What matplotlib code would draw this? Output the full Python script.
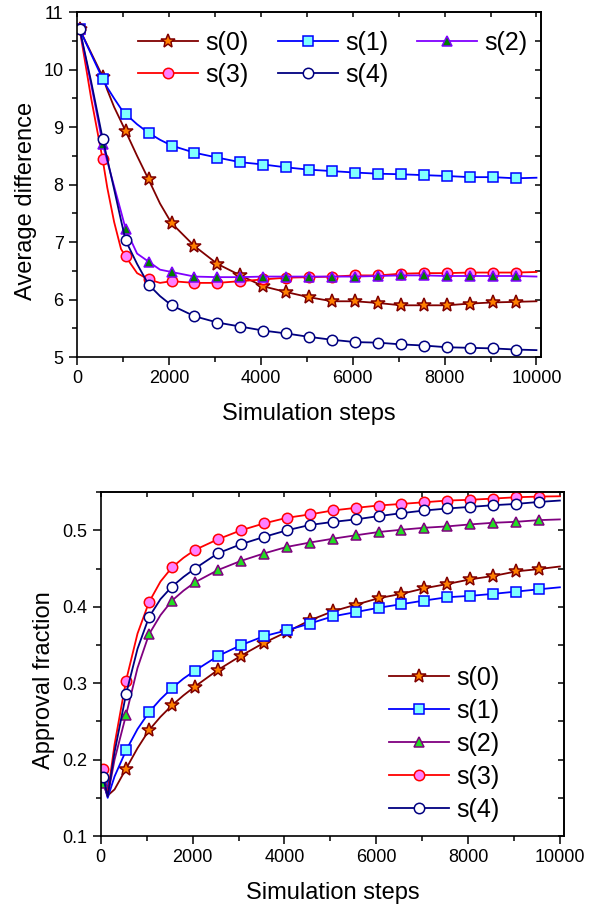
import numpy as np
import matplotlib
matplotlib.use("Agg")
import matplotlib.pyplot as plt
from matplotlib.ticker import MultipleLocator

plt.rcParams['font.family'] = ['Liberation Sans', 'DejaVu Sans']

labels = ["s(0)", "s(1)", "s(2)", "s(3)", "s(4)"]
marker_steps = [50 + 500 * k for k in range(20)]

# ---- top panel: average difference ----
top_x = [50, 300, 550, 650, 800, 950, 1050, 1300, 1550, 1800, 2050, 2550, 3050, 3550,
         4050, 4550, 5050, 5550, 6050, 6550, 7050, 7550, 8050, 8550, 9050, 9550, 10000]
top_s0 = [10.70, 10.29, 9.88, 9.65, 9.35, 9.10, 8.93, 8.50, 8.09, 7.67, 7.33, 6.93, 6.62, 6.42,
          6.23, 6.13, 6.04, 5.97, 5.97, 5.94, 5.90, 5.90, 5.90, 5.93, 5.95, 5.96, 5.97]
top_s1 = [10.70, 10.27, 9.84, 9.69, 9.50, 9.32, 9.23, 9.05, 8.90, 8.78, 8.68, 8.555, 8.47, 8.39,
          8.35, 8.30, 8.26, 8.235, 8.21, 8.19, 8.18, 8.165, 8.15, 8.13, 8.13, 8.11, 8.12]
top_s2 = [10.70, 9.74, 8.71, 8.41, 7.97, 7.53, 7.23, 6.80, 6.66, 6.52, 6.48, 6.40, 6.39, 6.39,
          6.40, 6.40, 6.40, 6.40, 6.40, 6.41, 6.42, 6.42, 6.41, 6.41, 6.41, 6.41, 6.40]
top_s3 = [10.70, 9.50, 8.44, 7.95, 7.35, 6.88, 6.75, 6.46, 6.35, 6.29, 6.32, 6.29, 6.29, 6.32,
          6.35, 6.38, 6.39, 6.40, 6.42, 6.42, 6.45, 6.46, 6.46, 6.47, 6.47, 6.47, 6.48]
top_s4 = [10.70, 9.79, 8.80, 8.45, 7.92, 7.38, 7.03, 6.62, 6.26, 6.06, 5.90, 5.71, 5.60, 5.53,
          5.46, 5.41, 5.35, 5.30, 5.26, 5.25, 5.22, 5.20, 5.17, 5.16, 5.15, 5.13, 5.12]

# ---- bottom panel: approval fraction ----
bot_x = [50, 150, 300, 550, 800, 1050, 1300, 1550, 1800, 2050, 2550, 3050, 3550, 4050,
         4550, 5050, 5550, 6050, 6550, 7050, 7550, 8050, 8550, 9050, 9550, 10000]
bot_s0 = [0.170, 0.153, 0.161, 0.188, 0.215, 0.2385, 0.256, 0.271, 0.284, 0.2956, 0.3173, 0.3358,
          0.3527, 0.367, 0.3822, 0.394, 0.4026, 0.4112, 0.4169, 0.4242, 0.4298, 0.4359, 0.4403,
          0.4463, 0.4494, 0.4527]
bot_s1 = [0.172, 0.150, 0.178, 0.212, 0.240, 0.262, 0.279, 0.2935, 0.306, 0.3164, 0.3355, 0.3497,
          0.3614, 0.3692, 0.378, 0.3874, 0.393, 0.3987, 0.4034, 0.4082, 0.4125, 0.4143, 0.4169,
          0.4199, 0.4229, 0.4255]
bot_s2 = [0.170, 0.152, 0.200, 0.2584, 0.320, 0.364, 0.389, 0.408, 0.421, 0.432, 0.448, 0.460,
          0.4697, 0.4783, 0.484, 0.489, 0.4935, 0.4978, 0.5008, 0.5034, 0.5052, 0.5078, 0.5099,
          0.5112, 0.5134, 0.5143]
bot_s3 = [0.188, 0.155, 0.220, 0.3034, 0.365, 0.406, 0.433, 0.4515, 0.464, 0.4744, 0.4883, 0.500,
          0.509, 0.5164, 0.5208, 0.526, 0.5294, 0.5325, 0.5346, 0.5368, 0.539, 0.540, 0.5416,
          0.5433, 0.5442, 0.5446]
bot_s4 = [0.177, 0.152, 0.210, 0.2857, 0.345, 0.3865, 0.410, 0.4264, 0.439, 0.450, 0.470, 0.4818,
          0.4913, 0.500, 0.507, 0.511, 0.5143, 0.5186, 0.5225, 0.526, 0.5286, 0.5307, 0.5329,
          0.5346, 0.5372, 0.539]

line_colors = ['#800000', '#0000FF', '#8000FF', '#FF0000', '#000080']
face_colors = ['#FF8000', '#80FFFF', '#008000', '#FF80FF', 'white']
line_colors_b = ['#800000', '#0000FF', '#800080', '#FF0000', '#000080']
face_colors_b = ['#FF8000', '#80FFFF', '#22DD22', '#FF80FF', 'white']
markers = ['*', 's', '^', 'o', 'o']
msizes = [10, 6.5, 7.5, 7.5, 7.5]

fig = plt.figure(figsize=(6, 9.05), dpi=100)
ax1 = fig.add_axes([0.129, 0.6055, 0.772, 0.381])
ax2 = fig.add_axes([0.168, 0.0762, 0.772, 0.380])

order = [0, 1, 3, 2, 4]


def draw(ax, xs, ys_list, lcols, fcols):
    idx = [i for i, v in enumerate(xs) if v in marker_steps]
    handles = [None] * 5
    for k in order:
        h, = ax.plot(xs, ys_list[k], color=lcols[k], lw=1.3, marker=markers[k],
                     ms=msizes[k], mfc=fcols[k], mec=lcols[k], mew=1.1,
                     markevery=idx, label=labels[k])
        handles[k] = h
    return handles


def style(ax, ylim, ymaj, ymin, ylabel, fmt, lab_x):
    ax.set_xlim(0, 10090)
    ax.set_ylim(*ylim)
    ax.xaxis.set_major_locator(MultipleLocator(2000))
    ax.xaxis.set_minor_locator(MultipleLocator(1000))
    ax.yaxis.set_major_locator(MultipleLocator(ymaj))
    ax.yaxis.set_minor_locator(MultipleLocator(ymin))
    ax.tick_params(which='major', direction='out', length=6, width=1.1, labelsize=13, pad=3)
    ax.tick_params(axis='y', which='major', pad=4)
    ax.tick_params(which='minor', direction='out', length=3.5, width=1.1)
    ax.yaxis.set_major_formatter(matplotlib.ticker.FormatStrFormatter(fmt))
    for s in ax.spines.values():
        s.set_linewidth(1.2)
    secx = ax.secondary_xaxis('top')
    secx.set_xticks(np.arange(0, 10001, 1000))
    secx.tick_params(direction='in', length=3.5, width=1.1, labeltop=False)
    secx.spines['top'].set_linewidth(1.2)
    secy = ax.secondary_yaxis('right')
    secy.set_yticks(np.arange(ylim[0], ylim[1] + 1e-9, ymin))
    secy.tick_params(direction='in', length=4.5, width=1.1, labelright=False)
    secy.spines['right'].set_linewidth(1.2)
    ax.set_xlabel('Simulation steps', fontsize=17, labelpad=12)
    ax.set_ylabel(ylabel, fontsize=17)
    ax.yaxis.set_label_coords(lab_x, 0.454)


h1 = draw(ax1, top_x, [top_s0, top_s1, top_s2, top_s3, top_s4], line_colors, face_colors)
style(ax1, (5, 11), 1, 0.5, 'Average difference', '%d', -0.087)
leg_order = [0, 3, 1, 4, 2]
ax1.legend(handles=[h1[i] for i in leg_order], ncol=3, frameon=False, fontsize=18,
           loc='upper left', bbox_to_anchor=(0.131, 0.945), borderpad=0, borderaxespad=0,
           handlelength=2.4, handletextpad=0.3, columnspacing=1.15, labelspacing=0.3,
           numpoints=1)

h2 = draw(ax2, bot_x, [bot_s0, bot_s1, bot_s2, bot_s3, bot_s4], line_colors_b, face_colors_b)
style(ax2, (0.1, 0.55), 0.1, 0.05, 'Approval fraction', '%.1f', -0.099)
ax2.legend(handles=h2, ncol=1, frameon=False, fontsize=18, loc='lower left',
           bbox_to_anchor=(0.622, 0.042), borderpad=0, borderaxespad=0,
           handlelength=2.4, handletextpad=0.3, labelspacing=0.36, numpoints=1)

fig.savefig('out.png', dpi=100)
